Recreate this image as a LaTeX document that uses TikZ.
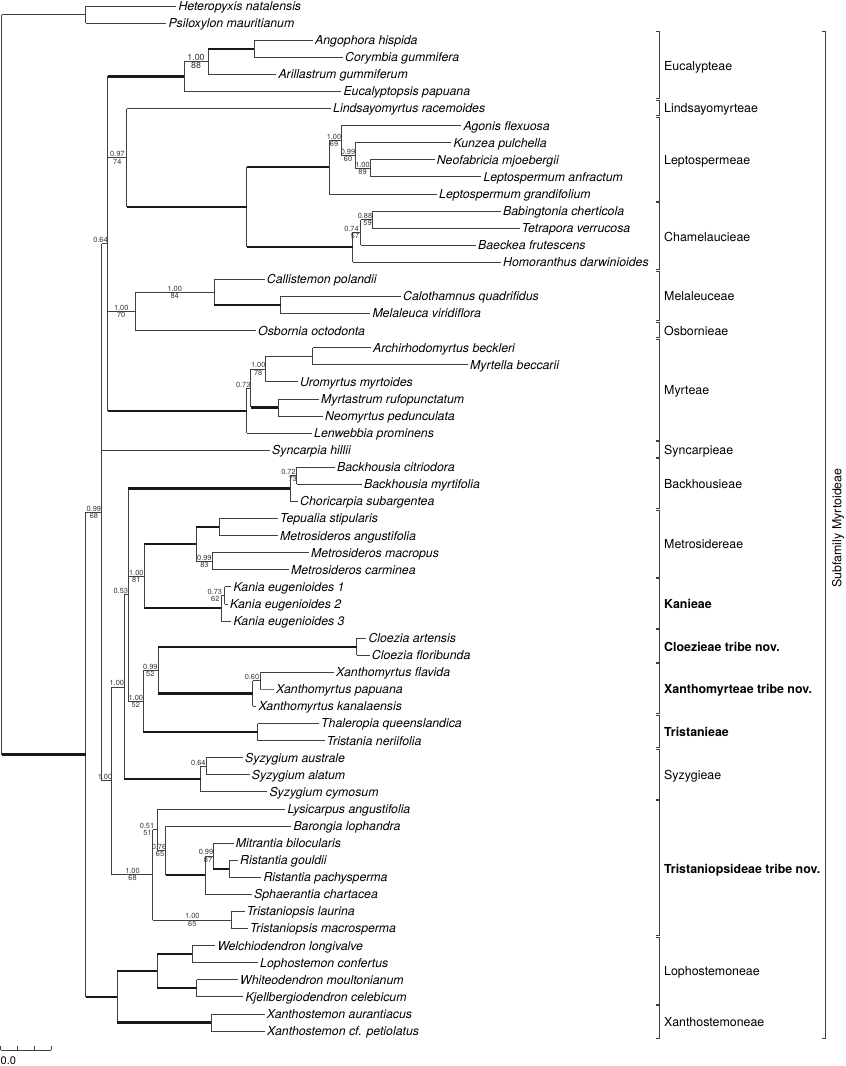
\documentclass[tikz,border=0pt]{standalone}
\usepackage{fontspec}
\setmainfont{TeX Gyre Heros}
\usetikzlibrary{calc}
\tikzset{
 leaf/.style={anchor=west, inner xsep=2pt, inner ysep=0pt, text height=8.8pt, text depth=0pt, font=\fontsize{12.3}{14}\selectfont\itshape},
 vl/.style={draw=black!75, line width=0.8pt},
 hl/.style={draw=black!75, line width=0.8pt},
 hk/.style={draw=black!90, line width=2.3pt},
 hm/.style={draw=black!55, line width=1.6pt},
 ppl/.style={anchor=south, inner sep=0.7pt, font=\fontsize{7.4}{8}\selectfont, text=black!80},
 bsl/.style={anchor=north, inner sep=0.7pt, font=\fontsize{7.4}{8}\selectfont, text=black!80},
 tribe/.style={anchor=west, inner sep=0pt, text height=8.9pt, text depth=0pt, font=\fontsize{12.4}{14}\selectfont},
 tribeb/.style={tribe, font=\fontsize{12.4}{14}\selectfont\bfseries},
 brk/.style={draw=black!75, line width=0.9pt},
}
\newcommand\lf[4]{\node[leaf] (#1) at (#2,#3) {#4};}
\newcommand\inode[4]{\path ($(#3)!0.5!(#4)$) coordinate (m#1); \coordinate (#1) at (#2,0 |- m#1);}
\newcommand\vt[3]{\draw[vl] (#2 -| #1) -- (#3 -| #1);}
\newcommand\hz[3][hl]{\draw[#1] (#3 -| #2) -- (#3);}
\newcommand\sv[5]{\node[ppl] (p#1) at (#2,0 |- #1) {#3};\node[bsl] (b#1) at (#4,0 |- #1) {#5};}
\newcommand\svp[3]{\node[ppl] (p#1) at (#2,0 |- #1) {#3};}
\newcommand\bk[2]{\draw[brk] (656.3,#1) -- (659.3,#1) -- (659.3,#2) -- (656.3,#2);}
\begin{document}
\begin{tikzpicture}[x=1pt,y=-1pt]
\useasboundingbox (0,0) rectangle (846,1066);
% leaves
\lf{L1}{176.3}{6.0}{Heteropyxis natalensis}
\lf{L2}{166.3}{23.1}{Psiloxylon mauritianum}
\lf{L3}{313}{40.2}{Angophora hispida}
\lf{L4}{343}{57.2}{Corymbia gummifera}
\lf{L5}{276.3}{74.3}{Arillastrum gummiferum}
\lf{L6}{341.3}{91.4}{Eucalyptopsis papuana}
\lf{L7}{331}{108.5}{Lindsayomyrtus racemoides}
\lf{L8}{461.3}{125.6}{Agonis flexuosa}
\lf{L9}{451.3}{142.7}{Kunzea pulchella}
\lf{L10}{434.7}{159.7}{Neofabricia mjoebergii}
\lf{L11}{481.3}{176.8}{Leptospermum anfractum}
\lf{L12}{437}{193.9}{Leptospermum grandifolium}
\lf{L13}{501}{211.0}{Babingtonia cherticola}
\lf{L14}{519.7}{228.1}{Tetrapora verrucosa}
\lf{L15}{476}{245.2}{Baeckea frutescens}
\lf{L16}{501}{262.2}{Homoranthus darwinioides}
\lf{L17}{264.7}{279.3}{Callistemon polandii}
\lf{L18}{401}{296.4}{Calothamnus quadrifidus}
\lf{L19}{370.3}{313.5}{Melaleuca viridiflora}
\lf{L20}{256}{330.6}{Osbornia octodonta}
\lf{L21}{371}{347.7}{Archirhodomyrtus beckleri}
\lf{L22}{468}{364.7}{Myrtella beccarii}
\lf{L23}{298}{381.8}{Uromyrtus myrtoides}
\lf{L24}{319}{398.9}{Myrtastrum rufopunctatum}
\lf{L25}{323}{416.0}{Neomyrtus pedunculata}
\lf{L26}{312}{433.1}{Lenwebbia prominens}
\lf{L27}{270}{450.2}{Syncarpia hillii}
\lf{L28}{335}{467.2}{Backhousia citriodora}
\lf{L29}{362}{484.3}{Backhousia myrtifolia}
\lf{L30}{298}{501.4}{Choricarpia subargentea}
\lf{L31}{278}{518.5}{Tepualia stipularis}
\lf{L32}{278}{535.6}{Metrosideros angustifolia}
\lf{L33}{309}{552.7}{Metrosideros macropus}
\lf{L34}{289}{569.7}{Metrosideros carminea}
\lf{L35}{231.3}{586.8}{Kania eugenioides 1}
\lf{L36}{228}{603.9}{Kania eugenioides 2}
\lf{L37}{231.3}{621.0}{Kania eugenioides 3}
\lf{L38}{366.3}{638.1}{Cloezia artensis}
\lf{L39}{369.7}{655.2}{Cloezia floribunda}
\lf{L40}{334}{672.2}{Xanthomyrtus flavida}
\lf{L41}{274}{689.3}{Xanthomyrtus papuana}
\lf{L42}{256.3}{706.4}{Xanthomyrtus kanalaensis}
\lf{L43}{319}{723.5}{Thaleropia queenslandica}
\lf{L44}{324.7}{740.6}{Tristania neriifolia}
\lf{L45}{243}{757.7}{Syzygium australe}
\lf{L46}{249.7}{774.7}{Syzygium alatum}
\lf{L47}{267.3}{791.8}{Syzygium cymosum}
\lf{L48}{285.3}{808.9}{Lysicarpus angustifolia}
\lf{L49}{291.3}{826.0}{Barongia lophandra}
\lf{L50}{233.7}{843.1}{Mitrantia bilocularis}
\lf{L51}{238}{860.2}{Ristantia gouldii}
\lf{L52}{261.3}{877.2}{Ristantia pachysperma}
\lf{L53}{252}{894.3}{Sphaerantia chartacea}
\lf{L54}{244.7}{911.4}{Tristaniopsis laurina}
\lf{L55}{248}{928.5}{Tristaniopsis macrosperma}
\lf{L56}{215.3}{945.6}{Welchiodendron longivalve}
\lf{L57}{258}{962.7}{Lophostemon confertus}
\lf{L58}{238}{979.7}{Whiteodendron moultonianum}
\lf{L59}{243.3}{996.8}{Kjellbergiodendron celebicum}
\lf{L60}{264.7}{1013.9}{Xanthostemon aurantiacus}
\lf{L61}{265}{1031.0}{Xanthostemon cf. petiolatus}
% internal nodes
\inode{nHP}{85.7}{L1}{L2}
\inode{nEu3}{254}{L3}{L4}
\inode{nEu2}{208}{nEu3}{L5}
\inode{nEu1}{184}{nEu2}{L6}
\inode{nLp4}{370}{L10}{L11}
\inode{nLp3}{355}{L9}{nLp4}
\inode{nLp2}{341}{L8}{nLp3}
\inode{nLp1}{329}{nLp2}{L12}
\inode{nCh3}{372}{L13}{L14}
\inode{nCh2}{360.7}{nCh3}{L15}
\inode{nCh1}{352.5}{nCh2}{L16}
\inode{nLC}{246.7}{nLp1}{nCh1}
\inode{nLi}{126.7}{L7}{nLC}
\inode{nMe3}{280.7}{L18}{L19}
\inode{nMe2}{214.3}{L17}{nMe3}
\inode{nMe1}{135}{nMe2}{L20}
\inode{nMy5}{312.7}{L21}{L22}
\inode{nMy4}{265.7}{nMy5}{L23}
\inode{nMy3}{278.3}{L24}{L25}
\inode{nMy2}{250.7}{nMy4}{nMy3}
\inode{nMy1}{246.7}{nMy2}{L26}
\inode{nA}{107.5}{nEu1}{nMy1}
\inode{nBa2}{296.7}{L28}{L29}
\inode{nBa1}{290}{nBa2}{L30}
\inode{nMt2}{219}{L31}{L32}
\inode{nMt3}{212.3}{L33}{L34}
\inode{nMt1}{196}{nMt2}{nMt3}
\inode{nKa2}{224.7}{L35}{L36}
\inode{nKa1}{221}{nKa2}{L37}
\inode{nMK}{144}{nMt1}{nKa1}
\inode{nCl}{356.7}{L38}{L39}
\inode{nXm2}{260}{L40}{L41}
\inode{nXm1}{252.5}{nXm2}{L42}
\inode{nCX}{158.3}{nCl}{nXm1}
\inode{nTr}{257.5}{L43}{L44}
\inode{nCXT}{143.3}{nCX}{nTr}
\inode{nBMC}{128.3}{nBa1}{nCXT}
\inode{nSy2}{206}{L45}{L46}
\inode{nSy1}{200.7}{nSy2}{L47}
\inode{nBS}{124.3}{nBMC}{nSy1}
\inode{nTp6}{229}{L51}{L52}
\inode{nTp5}{213}{L50}{nTp6}
\inode{nTp4}{205}{nTp5}{L53}
\inode{nTp3}{165.7}{L49}{nTp4}
\inode{nTp2}{157}{L48}{nTp3}
\inode{nTp7}{231.7}{L54}{L55}
\inode{nTp1}{152.7}{nTp2}{nTp7}
\inode{nLo}{111}{nBS}{nTp1}
\inode{nB}{101.7}{nA}{nLo}
\inode{nLW}{192.3}{L56}{L57}
\inode{nLK}{196.7}{L58}{L59}
\inode{nL1}{157.3}{nLW}{nLK}
\inode{nXs}{211}{L60}{L61}
\inode{nLX}{117.3}{nL1}{nXs}
\inode{nIn}{85.7}{nB}{nLX}
\inode{nR}{1.5}{nHP}{nIn}
% verticals
\vt{nR}{nHP}{nIn}
\vt{nHP}{L1}{L2}
\vt{nIn}{nB}{nLX}
\vt{nB}{nA}{nLo}
\vt{nA}{nEu1}{nMy1}
\vt{nEu1}{nEu2}{L6}
\vt{nEu2}{nEu3}{L5}
\vt{nEu3}{L3}{L4}
\vt{nLi}{L7}{nLC}
\vt{nLC}{nLp1}{nCh1}
\vt{nLp1}{nLp2}{L12}
\vt{nLp2}{L8}{nLp3}
\vt{nLp3}{L9}{nLp4}
\vt{nLp4}{L10}{L11}
\vt{nCh1}{nCh2}{L16}
\vt{nCh2}{nCh3}{L15}
\vt{nCh3}{L13}{L14}
\vt{nMe1}{nMe2}{L20}
\vt{nMe2}{L17}{nMe3}
\vt{nMe3}{L18}{L19}
\vt{nMy1}{nMy2}{L26}
\vt{nMy2}{nMy4}{nMy3}
\vt{nMy4}{nMy5}{L23}
\vt{nMy5}{L21}{L22}
\vt{nMy3}{L24}{L25}
\vt{nLo}{nBS}{nTp1}
\vt{nBS}{nBMC}{nSy1}
\vt{nBMC}{nBa1}{nCXT}
\vt{nBa1}{nBa2}{L30}
\vt{nBa2}{L28}{L29}
\vt{nMK}{nMt1}{nKa1}
\vt{nMt1}{nMt2}{nMt3}
\vt{nMt2}{L31}{L32}
\vt{nMt3}{L33}{L34}
\vt{nKa1}{nKa2}{L37}
\vt{nKa2}{L35}{L36}
\vt{nCXT}{nCX}{nTr}
\vt{nCX}{nCl}{nXm1}
\vt{nCl}{L38}{L39}
\vt{nXm1}{nXm2}{L42}
\vt{nXm2}{L40}{L41}
\vt{nTr}{L43}{L44}
\vt{nSy1}{nSy2}{L47}
\vt{nSy2}{L45}{L46}
\vt{nTp1}{nTp2}{nTp7}
\vt{nTp2}{L48}{nTp3}
\vt{nTp3}{L49}{nTp4}
\vt{nTp4}{nTp5}{L53}
\vt{nTp5}{L50}{nTp6}
\vt{nTp6}{L51}{L52}
\vt{nTp7}{L54}{L55}
\vt{nLX}{nL1}{nXs}
\vt{nL1}{nLW}{nLK}
\vt{nLW}{L56}{L57}
\vt{nLK}{L58}{L59}
\vt{nXs}{L60}{L61}
% horizontals
\hz{nR}{nHP}
\hz[hk]{nR}{nIn}
\hz{nHP}{L1}\hz{nHP}{L2}
\hz{nIn}{nB}
\hz[hk]{nIn}{nLX}
\hz{nB}{nA}\hz{nB}{L27}\hz{nB}{nLo}
\hz[hk]{nA}{nEu1}\hz{nA}{nLi}\hz{nA}{nMe1}\hz[hk]{nA}{nMy1}
\hz{nEu1}{nEu2}\hz{nEu1}{L6}
\hz[hk]{nEu2}{nEu3}\hz{nEu2}{L5}
\hz{nEu3}{L3}\hz{nEu3}{L4}
\hz{nLi}{L7}\hz[hk]{nLi}{nLC}
\hz[hk]{nLC}{nLp1}\hz[hk]{nLC}{nCh1}
\hz{nLp1}{nLp2}\hz{nLp1}{L12}
\hz{nLp2}{L8}\hz{nLp2}{nLp3}
\hz{nLp3}{L9}\hz{nLp3}{nLp4}
\hz{nLp4}{L10}\hz{nLp4}{L11}
\hz{nCh1}{nCh2}\hz{nCh1}{L16}
\hz{nCh2}{nCh3}\hz{nCh2}{L15}
\hz{nCh3}{L13}\hz{nCh3}{L14}
\hz{nMe1}{nMe2}\hz{nMe1}{L20}
\hz{nMe2}{L17}\hz[hk]{nMe2}{nMe3}
\hz{nMe3}{L18}\hz{nMe3}{L19}
\hz{nMy1}{nMy2}\hz{nMy1}{L26}
\hz{nMy2}{nMy4}\hz[hk]{nMy2}{nMy3}
\hz{nMy4}{nMy5}\hz{nMy4}{L23}
\hz{nMy5}{L21}\hz{nMy5}{L22}
\hz{nMy3}{L24}\hz{nMy3}{L25}
\hz{nLo}{nBS}\hz{nLo}{nTp1}
\hz{nBS}{nBMC}\hz[hk]{nBS}{nSy1}
\hz[hk]{nBMC}{nBa1}\hz{nBMC}{nMK}\hz{nBMC}{nCXT}
\hz{nBa1}{nBa2}\hz{nBa1}{L30}
\hz{nBa2}{L28}\hz{nBa2}{L29}
\hz[hk]{nMK}{nMt1}\hz[hk]{nMK}{nKa1}
\hz[hk]{nMt1}{nMt2}\hz{nMt1}{nMt3}
\hz{nMt2}{L31}\hz{nMt2}{L32}
\hz{nMt3}{L33}\hz{nMt3}{L34}
\hz{nKa1}{nKa2}\hz{nKa1}{L37}
\hz{nKa2}{L35}\hz{nKa2}{L36}
\hz{nCXT}{nCX}\hz[hk]{nCXT}{nTr}
\hz[hk]{nCX}{nCl}\hz[hk]{nCX}{nXm1}
\hz{nCl}{L38}\hz{nCl}{L39}
\hz{nXm1}{nXm2}\hz{nXm1}{L42}
\hz{nXm2}{L40}\hz[hm]{nXm2}{L41}
\hz{nTr}{L43}\hz{nTr}{L44}
\hz{nSy1}{nSy2}\hz{nSy1}{L47}
\hz{nSy2}{L45}\hz{nSy2}{L46}
\hz{nTp1}{nTp2}\hz{nTp1}{nTp7}
\hz{nTp2}{L48}\hz{nTp2}{nTp3}
\hz{nTp3}{L49}\hz[hk]{nTp3}{nTp4}
\hz{nTp4}{nTp5}\hz{nTp4}{L53}
\hz{nTp5}{L50}\hz[hk]{nTp5}{nTp6}
\hz{nTp6}{L51}\hz{nTp6}{L52}
\hz{nTp7}{L54}\hz{nTp7}{L55}
\hz[hk]{nLX}{nL1}\hz[hk]{nLX}{nXs}
\hz[hk]{nL1}{nLW}\hz[hk]{nL1}{nLK}
\hz{nLW}{L56}\hz{nLW}{L57}
\hz{nLK}{L58}\hz{nLK}{L59}
\hz{nXs}{L60}\hz{nXs}{L61}
% support values
\sv{nB}{93.9}{0.99}{93.9}{68}
\svp{nA}{100.5}{0.64}
\sv{nLi}{117.3}{0.97}{117.3}{74}
\sv{nMe1}{121.2}{1.00}{121.2}{70}
\node[ppl, font=\fontsize{8.8}{9}\selectfont] (pnEu2) at (196,0 |- nEu2) {1.00};
\node[bsl, font=\fontsize{8.8}{9}\selectfont] (bnEu2) at (196,0 |- nEu2) {88};
\sv{nLp2}{334}{1.00}{334}{69}
\sv{nLp3}{348}{0.99}{348}{60}
\sv{nLp4}{362.5}{1.00}{362.5}{89}
\sv{nCh2}{351.5}{0.74}{355}{57}
\sv{nCh3}{365}{0.88}{367.5}{59}
\sv{nMe2}{174.7}{1.00}{174.7}{84}
\svp{nMy2}{243.2}{0.73}
\sv{nMy4}{258.2}{1.00}{258.2}{78}
\svp{nLo}{105}{1.00}
\svp{nBS}{116.8}{1.00}
\sv{nTp1}{132.5}{1.00}{132.5}{68}
\svp{nBMC}{120.8}{0.53}
\sv{nMK}{136.3}{1.00}{136.3}{81}
\sv{nCXT}{135.8}{1.00}{135.8}{52}
\sv{nBa2}{288.5}{0.72}{292.7}{73}
\sv{nMt3}{204.4}{0.99}{204.4}{83}
\sv{nKa2}{214.8}{0.73}{215.3}{62}
\sv{nCX}{150.3}{0.99}{150.3}{52}
\svp{nXm2}{252}{0.60}
\svp{nSy2}{198.4}{0.64}
\sv{nTp2}{147}{0.51}{147.5}{51}
\sv{nTp3}{159}{0.76}{160}{65}
\sv{nTp5}{206}{0.99}{208}{87}
\sv{nTp7}{192.3}{1.00}{192.3}{65}
% tribe brackets
\bk{31.9}{98.7}\bk{100.2}{115.8}\bk{117.3}{201.2}\bk{202.7}{269.5}
\bk{271.0}{320.8}\bk{322.3}{337.9}\bk{339.4}{440.4}\bk{441.9}{457.5}
\bk{458.9}{508.7}\bk{510.2}{577.0}\bk{578.5}{628.3}\bk{629.8}{662.5}
\bk{663.9}{713.7}\bk{715.2}{747.9}\bk{749.4}{799.1}\bk{800.6}{935.8}
\bk{937.3}{1004.1}\bk{1005.6}{1038.3}
\node[tribe] (t1) at (664,65.8) {Eucalypteae};
\node[tribe] (t2) at (664,108.5) {Lindsayomyrteae};
\node[tribe] (t3) at (664,159.75) {Leptospermeae};
\node[tribe] (t4) at (664,236.6) {Chamelaucieae};
\node[tribe] (t5) at (664,296.4) {Melaleuceae};
\node[tribe] (t6) at (664,330.6) {Osbornieae};
\node[tribe] (t7) at (664,390.4) {Myrteae};
\node[tribe] (t8) at (664,450.2) {Syncarpieae};
\node[tribe] (t9) at (664,484.3) {Backhousieae};
\node[tribe] (t10) at (664,544.1) {Metrosidereae};
\node[tribeb] (t11) at (664,603.9) {Kanieae};
\node[tribeb] (t12) at (664,646.65) {Cloezieae tribe nov.};
\node[tribeb] (t13) at (664,689.3) {Xanthomyrteae tribe nov.};
\node[tribeb] (t14) at (664,732.05) {Tristanieae};
\node[tribe] (t15) at (664,774.7) {Syzygieae};
\node[tribeb] (t16) at (664,868.7) {Tristaniopsideae tribe nov.};
\node[tribe] (t17) at (664,971.2) {Lophostemoneae};
\node[tribe] (t18) at (664,1022.45) {Xanthostemoneae};
% subfamily bracket
\draw[brk] (822,31.9) -- (825,31.9) -- (825,1038.3) -- (822,1038.3);
\node[rotate=90, inner sep=0pt, font=\fontsize{12.4}{14}\selectfont] (sub) at (838,528) {Subfamily Myrtoideae};
% scale bar
\draw[vl] (0.5,1050) -- (51,1050);
\draw[vl] (0.5,1050) -- (0.5,1046) (17,1050) -- (17,1046) (34,1050) -- (34,1046) (51,1050) -- (51,1046);
\node[anchor=west, inner sep=0pt, font=\fontsize{11}{12}\selectfont] (scale) at (0.5,1061) {0.0};
\end{tikzpicture}
\end{document}
